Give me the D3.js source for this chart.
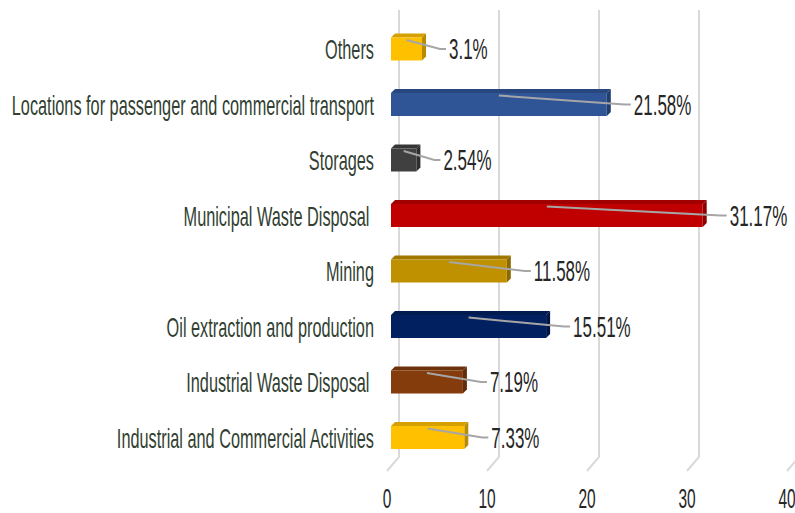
<!DOCTYPE html>
<html>
<head>
<meta charset="utf-8">
<script src="https://cdn.jsdelivr.net/npm/d3@7"></script>
<style>
  body { margin: 0; background: #fff; }
  svg text { font-family: "Liberation Sans", Arial, sans-serif; white-space: pre; }
</style>
</head>
<body>
<div id="chart"></div>
<script>
var categories = [
  'Others',
  'Locations for passenger and commercial transport',
  'Storages',
  'Municipal Waste Disposal ',
  'Mining',
  'Oil extraction and production',
  'Industrial Waste Disposal ',
  'Industrial and Commercial Activities'
];
var values = [3.1, 21.58, 2.54, 31.17, 11.58, 15.51, 7.19, 7.33];
var valueLabels = ['3.1%', '21.58%', '2.54%', '31.17%', '11.58%', '15.51%', '7.19%', '7.33%'];
var barColors = ['#ffc000', '#2f5597', '#404040', '#c00000', '#bf9000', '#002060', '#843c0c', '#ffc000'];
var tickValues = [0, 10, 20, 30, 40];

var width = 795, height = 513;
var depth = 4;       // bar depth
var wallX = 8;       // back wall offset
var barH = 23;
var stretch = 1.75;  // text is drawn tall and narrow

var svg = d3.select('#chart').append('svg')
    .attr('width', width)
    .attr('height', height);

var x = d3.scaleLinear()
    .domain([0, 40])
    .range([391, 791]);

var y = d3.scalePoint()
    .domain(categories)
    .range([49, 437.5]);

// gridlines on the back wall, with floor diagonal
var grid = svg.append('g').attr('class', 'grid');
tickValues.forEach(function(t) {
  var gx = x(t) + wallX;
  grid.append('path')
      .attr('d', 'M' + gx + ',10 L' + gx + ',457 L' + (gx - 12) + ',471')
      .attr('fill', 'none')
      .attr('stroke', '#d9d9d9')
      .attr('stroke-width', 2);
});

// tick labels
svg.append('g').selectAll('text')
    .data(tickValues)
  .enter().append('text')
    .attr('transform', function(d) { return 'translate(' + (x(d) - 4) + ',508) scale(1,' + stretch + ')'; })
    .attr('text-anchor', 'middle')
    .attr('font-size', 15.5)
    .attr('fill', '#262626')
    .text(function(d) { return d; });

var data = categories.map(function(c, i) {
  return { cat: c, v: values[i], label: valueLabels[i], color: barColors[i] };
});

var bars = svg.append('g').selectAll('g')
    .data(data)
  .enter().append('g');

// top face
bars.append('path')
    .attr('d', function(d) {
      var x0 = x(0), x1 = x(d.v), t = y(d.cat) - barH / 2;
      return 'M' + x0 + ',' + t + ' L' + (x0 + depth) + ',' + (t - depth) +
        ' L' + (x1 + depth) + ',' + (t - depth) + ' L' + x1 + ',' + t + 'Z';
    })
    .attr('fill', function(d) { return d3.color(d.color).darker(0.5); });

// side face
bars.append('path')
    .attr('d', function(d) {
      var x1 = x(d.v), t = y(d.cat) - barH / 2, b = t + barH;
      return 'M' + x1 + ',' + t + ' L' + (x1 + depth) + ',' + (t - depth) +
        ' L' + (x1 + depth) + ',' + (b - depth) + ' L' + x1 + ',' + b + 'Z';
    })
    .attr('fill', function(d) { return d3.color(d.color).darker(0.9); });

// front face
bars.append('rect')
    .attr('x', x(0))
    .attr('y', function(d) { return y(d.cat) - barH / 2; })
    .attr('width', function(d) { return x(d.v) - x(0); })
    .attr('height', barH)
    .attr('fill', function(d) { return d.color; });

// leader lines
bars.append('path')
    .attr('d', function(d) {
      var cy = y(d.cat);
      return 'M' + x(d.v / 2) + ',' + (cy - 9) + ' L' + (x(d.v) + 18) + ',' + cy +
        ' L' + (x(d.v) + 24) + ',' + cy;
    })
    .attr('fill', 'none')
    .attr('stroke', '#a6a6a6')
    .attr('stroke-width', 2);

// value labels
bars.append('text')
    .attr('transform', function(d) { return 'translate(' + (x(d.v) + 27) + ',' + (y(d.cat) + 10) + ') scale(1,' + stretch + ')'; })
    .attr('font-size', 17)
    .attr('fill', '#262626')
    .text(function(d) { return d.label; });

// category labels
svg.append('g').selectAll('text')
    .data(categories)
  .enter().append('text')
    .attr('transform', function(d) { return 'translate(374,' + (y(d) + 10) + ') scale(1,' + stretch + ')'; })
    .attr('text-anchor', 'end')
    .attr('font-size', 16.3)
    .attr('fill', '#323f32')
    .text(function(d) { return d; });
</script>
</body>
</html>
